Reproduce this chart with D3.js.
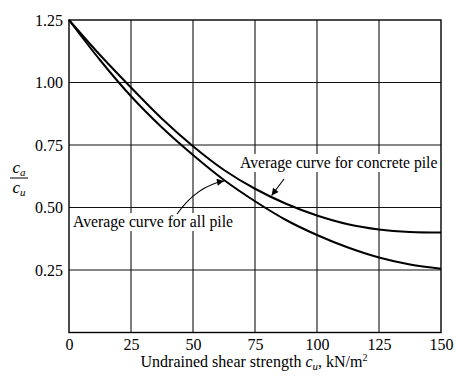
<!DOCTYPE html>
<html>
<head>
<meta charset="utf-8">
<script src="https://cdn.jsdelivr.net/npm/d3@7/dist/d3.min.js"></script>
<style>
  html, body { margin: 0; padding: 0; background: #fff; }
  svg { display: block; }
  text { font-family: "Liberation Serif", "Times New Roman", serif; fill: #000; }
</style>
</head>
<body>
<svg id="chart" width="456" height="380"></svg>
<script>
// ---- data ----
const xTicks = [0, 25, 50, 75, 100, 125, 150];
const yTicks = [0.25, 0.50, 0.75, 1.00, 1.25];
const yTickLabels = ["0.25", "0.50", "0.75", "1.00", "1.25"];

const allPileX = [0, 12.5, 25, 37.5, 50, 62.5, 75, 87.5, 100, 112.5, 125, 137.5, 150];
const allPileY = [1.25, 1.09, 0.945, 0.82, 0.71, 0.61, 0.525, 0.45, 0.39, 0.34, 0.30, 0.272, 0.255];

const concreteX = [0, 12.5, 25, 37.5, 50, 62.5, 75, 87.5, 100, 112.5, 125, 137.5, 150];
const concreteY = [1.25, 1.11, 0.98, 0.855, 0.745, 0.65, 0.575, 0.515, 0.468, 0.433, 0.412, 0.402, 0.40];

const labelConcrete = "Average curve for concrete pile";
const labelAll = "Average curve for all pile";

// ---- layout ----
const FF = "'Liberation Serif', 'Times New Roman', serif";
const svg = d3.select("#chart");
const pL = 69, pR = 441, pT = 20, pB = 332.5;
const x = d3.scaleLinear().domain([0, 150]).range([pL, pR]);
const y = d3.scaleLinear().domain([0, 1.25]).range([pB, pT]);

// grid
const g = svg.append("g");
g.selectAll("line.vg").data(xTicks.slice(1, -1)).enter().append("line")
  .attr("x1", d => x(d)).attr("x2", d => x(d)).attr("y1", pT).attr("y2", pB)
  .attr("stroke", "#111").attr("stroke-width", 1.1);
g.selectAll("line.hg").data(yTicks.slice(0, -1)).enter().append("line")
  .attr("x1", pL).attr("x2", pR).attr("y1", d => y(d)).attr("y2", d => y(d))
  .attr("stroke", "#111").attr("stroke-width", 1.1);
// frame
g.append("rect").attr("x", pL).attr("y", pT).attr("width", pR - pL).attr("height", pB - pT)
  .attr("fill", "none").attr("stroke", "#000").attr("stroke-width", 1.4);

// axes labels via d3 axes (no tick lines)
const xAxis = d3.axisBottom(x).tickValues(xTicks).tickSize(0).tickPadding(6).tickFormat(d3.format("d"));
const gx = svg.append("g").attr("transform", `translate(0,${pB})`).call(xAxis)
  .attr("font-family", FF).attr("font-size", 16);
gx.select(".domain").remove();
gx.selectAll("text").attr("fill", "#000");

const yAxis = d3.axisLeft(y).tickValues(yTicks).tickSize(0).tickPadding(6).tickFormat((d, i) => yTickLabels[i]);
const gy = svg.append("g").attr("transform", `translate(${pL},0)`).call(yAxis)
  .attr("font-family", FF).attr("font-size", 16);
gy.select(".domain").remove();
gy.selectAll("text").attr("fill", "#000");

// curves
const line = d3.line().x(d => x(d[0])).y(d => y(d[1])).curve(d3.curveCatmullRom);
const allData = allPileX.map((v, i) => [v, allPileY[i]]);
const conData = concreteX.map((v, i) => [v, concreteY[i]]);
svg.append("path").datum(allData).attr("d", line).attr("fill", "none").attr("stroke", "#000").attr("stroke-width", 2);
svg.append("path").datum(conData).attr("d", line).attr("fill", "none").attr("stroke", "#000").attr("stroke-width", 2);

// arrow marker
const defs = svg.append("defs");
defs.append("marker").attr("id", "arr").attr("viewBox", "0 0 10 10").attr("refX", 10).attr("refY", 5)
  .attr("markerWidth", 9).attr("markerHeight", 7).attr("markerUnits", "userSpaceOnUse").attr("orient", "auto")
  .append("path").attr("d", "M0,0 L10,5 L0,10 Z").attr("fill", "#000");

// annotation labels with white background
function labelWithBg(txt, tx, ty) {
  const grp = svg.append("g");
  const t = grp.append("text").attr("x", tx).attr("y", ty).attr("font-family", FF).attr("font-size", 15.7).text(txt);
  const bb = t.node().getBBox();
  grp.insert("rect", "text").attr("x", bb.x - 2).attr("y", bb.y).attr("width", bb.width + 4).attr("height", bb.height)
    .attr("fill", "#fff");
  return grp;
}
labelWithBg(labelConcrete, 240, 168);
labelWithBg(labelAll, 73, 227);

// arrows
const xc = 81.7;
svg.append("line").attr("x1", 284).attr("y1", 179).attr("x2", x(xc)).attr("y2", y(0.548))
  .attr("stroke", "#000").attr("stroke-width", 1.1).attr("marker-end", "url(#arr)");
const xa = 62.5;
svg.append("path").attr("d", `M177,214 Q197,186 ${x(xa)},${y(0.606)}`)
  .attr("fill", "none").attr("stroke", "#000").attr("stroke-width", 1.1).attr("marker-end", "url(#arr)");

// x-axis title
const xt = svg.append("text").attr("x", 254).attr("y", 367).attr("text-anchor", "middle")
  .attr("font-family", FF).attr("font-size", 16);
xt.append("tspan").text("Undrained shear strength ");
xt.append("tspan").attr("font-style", "italic").text("c");
xt.append("tspan").attr("font-style", "italic").attr("font-size", 11).attr("dy", 3).text("u");
xt.append("tspan").attr("dy", -3).text(", kN/m");
xt.append("tspan").attr("font-size", 10).attr("dy", -6).text("2");

// y-axis title (fraction)
const yl = svg.append("g").attr("font-family", FF);
const ta = yl.append("text").attr("x", 19).attr("y", 173).attr("text-anchor", "middle").attr("font-size", 17).attr("font-style", "italic");
ta.append("tspan").text("c");
ta.append("tspan").attr("font-size", 11).attr("dy", 3).text("a");
yl.append("line").attr("x1", 10).attr("x2", 28).attr("y1", 178).attr("y2", 178).attr("stroke", "#000").attr("stroke-width", 1);
const tu = yl.append("text").attr("x", 19).attr("y", 193).attr("text-anchor", "middle").attr("font-size", 17).attr("font-style", "italic");
tu.append("tspan").text("c");
tu.append("tspan").attr("font-size", 11).attr("dy", 3).text("u");
</script>
</body>
</html>
